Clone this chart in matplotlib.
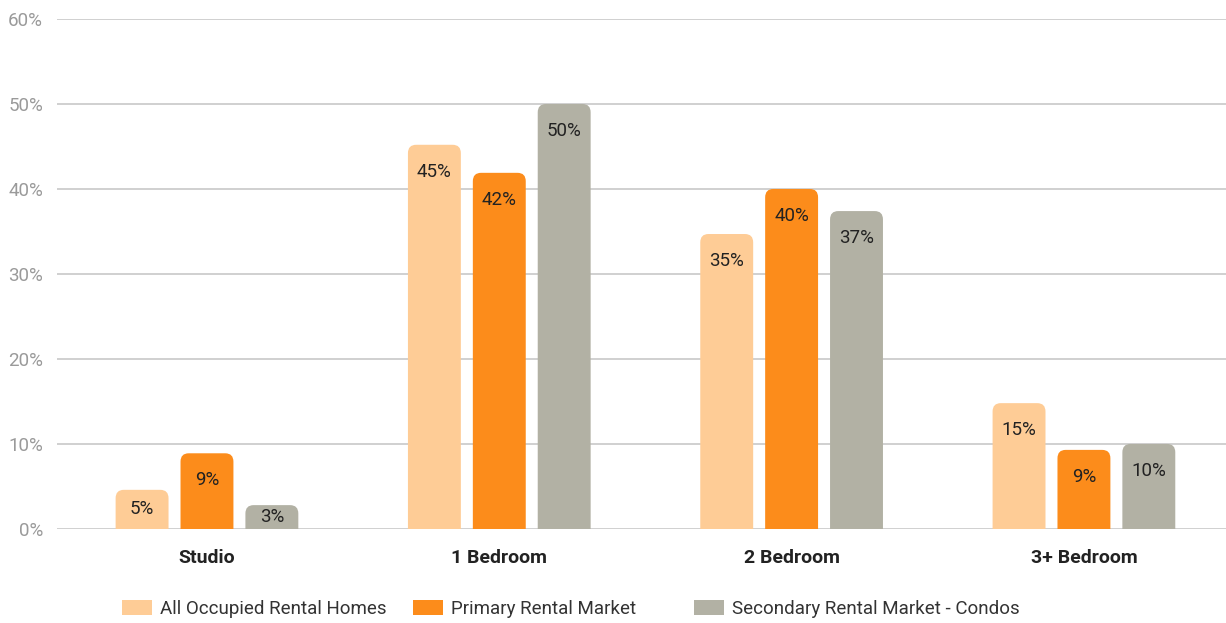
import matplotlib
matplotlib.use("Agg")
import matplotlib.pyplot as plt
from matplotlib.patches import FancyBboxPatch, Patch
import numpy as np

categories = ["Studio", "1 Bedroom", "2 Bedroom", "3+ Bedroom"]
series_names = ["All Occupied Rental Homes", "Primary Rental Market", "Secondary Rental Market - Condos"]
all_occupied = [4.6, 45.2, 34.7, 14.8]
primary = [8.9, 41.9, 40.0, 9.3]
secondary = [2.8, 50.0, 37.4, 10.0]
labels_all = ["5%", "45%", "35%", "15%"]
labels_primary = ["9%", "42%", "40%", "9%"]
labels_secondary = ["3%", "50%", "37%", "10%"]
yticks = [0, 10, 20, 30, 40, 50, 60]
ytick_labels = ["0%", "10%", "20%", "30%", "40%", "50%", "60%"]

colors = ["#FECC96", "#FC8C1B", "#B2B1A4"]

plt.rcParams['font.family'] = ['Roboto', 'DejaVu Sans']

fig = plt.figure(figsize=(12.26, 6.23), dpi=100)
ax = fig.add_axes([0.0465, 0.151, 0.9535, 0.8185])

x = np.arange(len(categories))
width = 0.181
offset = 0.222
series = [all_occupied, primary, secondary]
labels = [labels_all, labels_primary, labels_secondary]

ax.set_xlim(-0.513, 3.486)
ax.set_ylim(0, 60)

px_per_unit = ax.get_window_extent().height / 60.0

for i, (vals, labs, col) in enumerate(zip(series, labels, colors)):
    bars = ax.bar(x + (i - 1) * offset, vals, width, color=col, alpha=0)
    for b, lab in zip(bars, labs):
        bx, by = b.get_x(), b.get_y()
        bw, bh = b.get_width(), b.get_height()
        r = 0.028
        asp = 35.0
        patch = FancyBboxPatch((bx, by - 3), bw, bh + 3,
                               boxstyle=f"round,pad=0,rounding_size={r}",
                               mutation_aspect=asp, facecolor=col, edgecolor="none",
                               zorder=3, clip_on=True)
        ax.add_patch(patch)
        h_px = bh * px_per_unit
        dy = -min(27, h_px / 2)
        ax.annotate(lab, (bx + bw / 2, bh), xytext=(0, dy), textcoords="offset pixels",
                    ha="center", va="center", fontsize=13.5, color="#222222", zorder=4)

ax.set_yticks(yticks)
ax.set_yticklabels(ytick_labels, fontsize=13.5, color="#9a9a9a")
ax.set_xticks(x)
ax.set_xticklabels(categories, fontsize=14, fontweight="bold", color="#222222")
ax.tick_params(axis="both", length=0)
ax.tick_params(axis="x", pad=14.5)
ax.tick_params(axis="y", pad=10)
ax.yaxis.grid(True, color="#c8c8c8", linewidth=1.2)
ax.set_axisbelow(True)
for s in ax.spines.values():
    s.set_visible(False)

legend_x = [122, 413, 694]
W, H = 1226.0, 623.0
for name, col, lx in zip(series_names, colors, legend_x):
    leg = fig.legend([Patch(facecolor=col, edgecolor="none")], [name], loc="center left",
                     bbox_to_anchor=(lx / W, 1 - 609 / H), frameon=False, fontsize=13.5,
                     handlelength=1.6, handleheight=0.85, handletextpad=0.43,
                     borderpad=0, borderaxespad=0, labelcolor="#333333")

fig.savefig("out.png", dpi=100, facecolor="white")
